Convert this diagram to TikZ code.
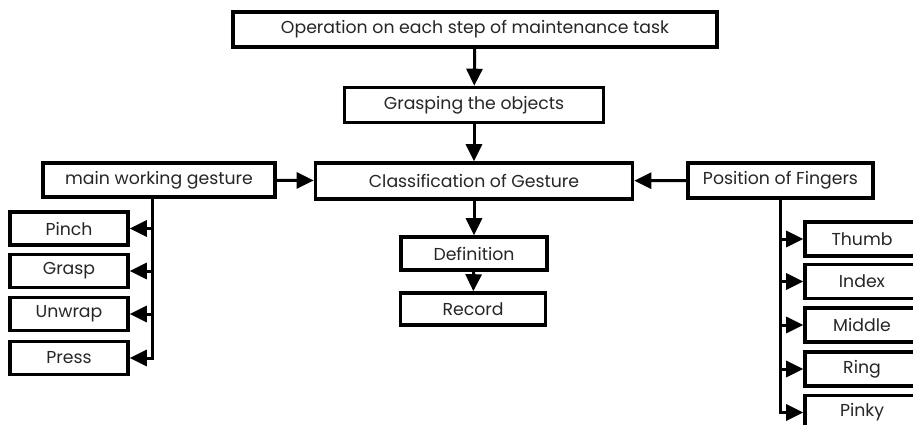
\documentclass[tikz,border=0pt]{standalone}
\usepackage{fontspec}
\setmainfont{Poppins}
\usetikzlibrary{arrows.meta}
\begin{document}
\begin{tikzpicture}[x=1pt,y=-1pt,
  box/.style={draw=black,line width=3.6pt,fill=white,inner sep=0pt,font=\fontsize{17.3}{20}\selectfont,text=black!85},
  arr/.style={line width=3pt,-{Triangle[length=17pt,width=16pt]}},
  ln/.style={line width=3pt}]
\useasboundingbox (0,0) rectangle (913,425);
\clip (0,0) rectangle (913,425);
\fill[white] (0,0) rectangle (913,425);
\node[box,minimum width=484pt,minimum height=35pt] (top) at (475,29.5) {Operation on each step of maintenance task};
\node[box,minimum width=259pt,minimum height=35pt] (grasp) at (474,105) {Grasping the objects};
\node[box,minimum width=317pt,minimum height=36pt] (class) at (474,181) {Classification of Gesture};
\node[box,minimum width=232pt,minimum height=34pt] (main) at (159,180) {main working gesture};
\node[box,minimum width=185pt,minimum height=35pt] (pos) at (780.5,180.5) {Position of Fingers};
\node[box,minimum width=146pt,minimum height=33pt] (def) at (474,253.5) {Definition};
\node[box,minimum width=145pt,minimum height=32pt] (rec) at (473,309) {Record};
\node[box,minimum width=118pt,minimum height=33pt] (pinch) at (69,228.5) {Pinch};
\node[box,minimum width=118pt,minimum height=33pt] (graspb) at (69,271) {Grasp};
\node[box,minimum width=118pt,minimum height=33pt] (unwrap) at (69,314) {Unwrap};
\node[box,minimum width=118pt,minimum height=33pt] (press) at (69,358) {Press};
\node[box,minimum width=114pt,minimum height=34pt] (thumb) at (862,239) {Thumb};
\node[box,minimum width=114pt,minimum height=34pt] (index) at (862,281.5) {Index};
\node[box,minimum width=114pt,minimum height=34pt] (middle) at (862,325) {Middle};
\node[box,minimum width=114pt,minimum height=34pt] (ring) at (862,369) {Ring};
\node[box,minimum width=114pt,minimum height=34pt] (pinky) at (862,412.5) {Pinky};
\coordinate (lx) at (152,0);
\draw[arr] (top) -- (grasp);
\draw[arr] (grasp) -- (class);
\draw[arr] (main) -- (class);
\draw[arr] (pos) -- (class);
\draw[arr] (class) -- (def);
\draw[arr] (def) -- (rec);
\draw[arr] (main.south -| lx) |- (press.east);
\draw[arr] (lx |- pinch.east) -- (pinch.east);
\draw[arr] (lx |- graspb.east) -- (graspb.east);
\draw[arr] (lx |- unwrap.east) -- (unwrap.east);
\draw[arr] (pos.south) |- (pinky.west);
\draw[arr] (pos.south |- thumb.west) -- (thumb.west);
\draw[arr] (pos.south |- index.west) -- (index.west);
\draw[arr] (pos.south |- middle.west) -- (middle.west);
\draw[arr] (pos.south |- ring.west) -- (ring.west);
\end{tikzpicture}
\end{document}
